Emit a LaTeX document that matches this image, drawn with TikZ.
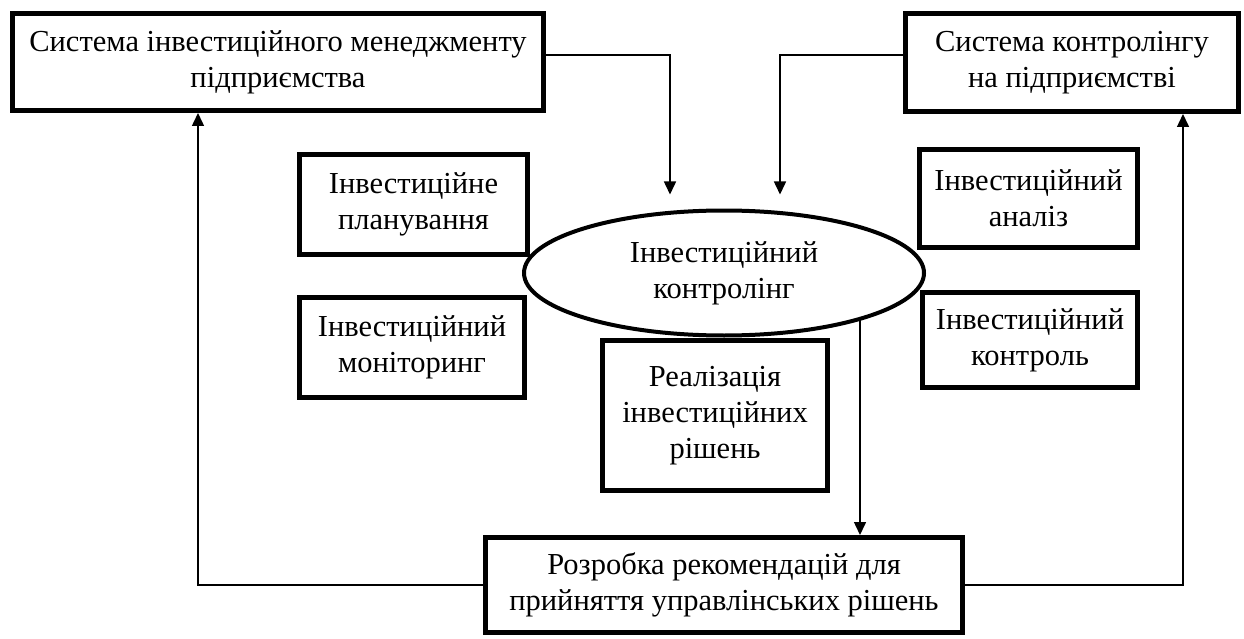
\documentclass[tikz,border=0pt]{standalone}
\usepackage{fontspec}
\setmainfont{Liberation Serif}
\usetikzlibrary{positioning,arrows.meta,shapes.geometric}

\begin{document}
\begin{tikzpicture}[x=1pt, y=-1pt,
  every node/.style={font=\fontsize{30.5}{36}\selectfont, align=center, inner sep=0pt},
  box/.style={draw, line width=5pt, fill=white, rectangle},
  oval/.style={draw, line width=4pt, fill=white, ellipse},
  arr/.style={line width=1.5pt, -{Triangle[width=12pt,length=13pt]}}]
\useasboundingbox (0,0) rectangle (1244,639);
% Верхні системи
\node[box, minimum width=531, minimum height=97] (sysinv) at (278,62) {Система інвестиційного менеджменту\\підприємства};
\node[box, minimum width=333, minimum height=98] (sysctl) at (1072,62.5) {Система контролінгу\\на підприємстві};
% Функції контролінгу
\node[box, minimum width=228, minimum height=100] (plan) at (413.5,204.5) {Інвестиційне\\планування};
\node[box, minimum width=225, minimum height=100] (monit) at (412,347.5) {Інвестиційний\\моніторинг};
\node[box, minimum width=218, minimum height=98] (anal) at (1028.5,198.5) {Інвестиційний\\аналіз};
\node[box, minimum width=215, minimum height=95] (contr) at (1030,340) {Інвестиційний\\контроль};
\node[box, minimum width=225, minimum height=150] (real) at (715,415.5) {Реалізація\\інвестиційних\\рішень};
% Центр
\node[oval, minimum width=400, minimum height=125] (ctrl) at (724,273) {Інвестиційний\\контролінг};
% Рекомендації
\node[box, minimum width=477, minimum height=95] (rec) at (724,585) {Розробка рекомендацій для\\прийняття управлінських рішень};
% Зв'язки
\coordinate (recin) at ([xshift=136pt]rec.north);
\draw[arr, shorten >=14pt] ([yshift=7pt]sysinv.east) -| ([xshift=-54pt]ctrl.north);
\draw[arr, shorten >=14pt] ([yshift=7.5pt]sysctl.west) -| ([xshift=56pt]ctrl.north);
\draw[arr] (recin |- ctrl.-19.4) -- (recin);
\draw[arr] (rec.west) -| ([xshift=-80pt]sysinv.south);
\draw[arr] (rec.east) -| ([xshift=111pt]sysctl.south);
\end{tikzpicture}
\end{document}
